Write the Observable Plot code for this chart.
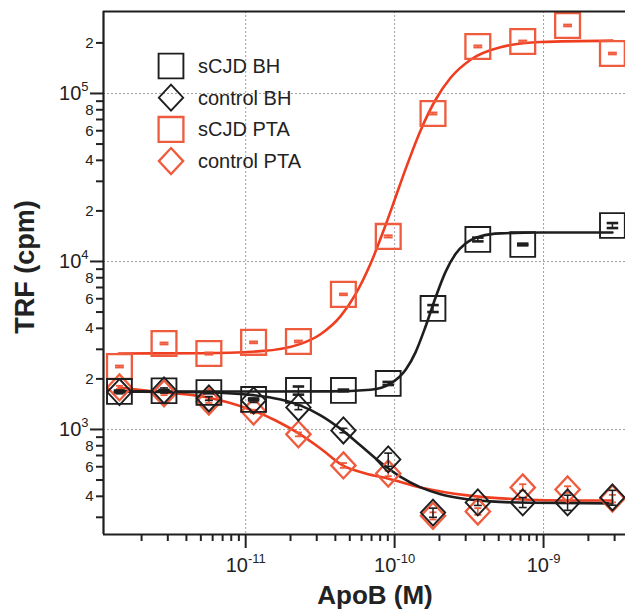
<!DOCTYPE html>
<html><head><meta charset="utf-8">
<script src="https://cdn.jsdelivr.net/npm/d3@7"></script>
<script src="https://cdn.jsdelivr.net/npm/@observablehq/plot@0.6"></script>
<style>
body{margin:0;background:#fff;}
#wrap{position:relative;width:625px;height:612px;}
</style></head><body><div id="wrap"></div>
<script>
// ---- data ----
const conc = [1.42e-12, 2.83e-12, 5.66e-12, 1.13e-11, 2.26e-11, 4.53e-11, 9.06e-11, 1.81e-10, 3.62e-10, 7.25e-10, 1.45e-9, 2.90e-9];

const sCJD_BH      = [1684, 1700, 1660, 1509, 1707, 1707, 1879, 5250, 13520, 12620, null, 16370];
const sCJD_BH_err  = [20, 20, 20, 20, 95, 20, 40, 250, 350, 150, null, 560];
const control_BH     = [1670, 1707, 1529, 1488, 1352, 986, 663, 320, 368, 368, 368, 394];
const control_BH_err = [40, 60, 40, 40, 40, 30, 60, 20, 15, 25, 38, 40];
const sCJD_PTA     = [2370, 3250, 2830, 3300, 3340, 6370, 14100, 76000, 190500, 204000, 254000, 173000];
const sCJD_PTA_err = [30, 40, 40, 40, 40, 70, 200, 1000, 2500, 2500, 3000, 2000];
const control_PTA     = [1780, 1640, 1468, 1280, 935, 611, 547, 306, 325, 452, 439, 388];
const control_PTA_err = [40, 40, 30, 30, 25, 20, 20, 15, 15, 20, 20, 20];

// fitted curves
const fit_sCJD_PTA_x = [1.405e-12, 4.99e-12, 1.26e-11, 2.34e-11, 3.18e-11, 4.34e-11, 5.47e-11, 6.90e-11, 8.70e-11, 1.016e-10, 1.186e-10, 1.494e-10, 1.884e-10, 2.376e-10, 3.236e-10, 5.14e-10, 9.55e-10, 2.90e-9];
const fit_sCJD_PTA_y = [2833, 2845, 2925, 3232, 3688, 4725, 6390, 9716, 16470, 24210, 35580, 60290, 91740, 124000, 158900, 188600, 202300, 206300];
const fit_sCJD_BH_x = [1.405e-12, 1.08e-11, 3.72e-11, 6.90e-11, 9.39e-11, 1.186e-10, 1.384e-10, 1.614e-10, 1.884e-10, 2.198e-10, 2.564e-10, 2.995e-10, 3.775e-10, 5.14e-10, 9.55e-10, 2.90e-9];
const fit_sCJD_BH_y = [1684, 1684, 1686, 1725, 1874, 2264, 2888, 4103, 6106, 8672, 11070, 12780, 14130, 14700, 14860, 14880];
const fit_control_BH_x = [1.405e-12, 4.99e-12, 1.08e-11, 1.718e-11, 2.34e-11, 3.18e-11, 4.34e-11, 5.91e-11, 8.05e-11, 1.097e-10, 1.494e-10, 2.036e-10, 2.773e-10, 4.41e-10, 8.18e-10, 2.90e-9];
const fit_control_BH_y = [1682, 1667, 1607, 1507, 1386, 1215, 1008, 803, 636, 522, 452, 412, 390, 373, 366, 363];
const fit_control_PTA_x = [1.405e-12, 2.82e-12, 5.56e-12, 1.114e-11, 1.589e-11, 2.27e-11, 3.18e-11, 4.48e-11, 6.39e-11, 8.98e-11, 1.494e-10, 3.09e-10, 7.23e-10, 1.449e-9, 2.90e-9];
const fit_control_PTA_y = [1778, 1661, 1551, 1298, 1131, 947, 770, 611, 547, 511, 452, 405, 383, 378, 378];

// ticks
const xMajor = [1e-11, 1e-10, 1e-9];
const xMinor = [2e-12,3e-12,4e-12,5e-12,6e-12,7e-12,8e-12,9e-12, 2e-11,3e-11,4e-11,5e-11,6e-11,7e-11,8e-11,9e-11, 2e-10,3e-10,4e-10,5e-10,6e-10,7e-10,8e-10,9e-10, 2e-9,3e-9];
const yMajor = [1e3, 1e4, 1e5];
const yMinorLabeled = [400,600,800, 2000,4000,6000,8000, 20000,40000,60000,80000, 200000];
const yMinorLabelText = ["4","6","8", "2","4","6","8", "2","4","6","8", "2"];
const yMinorPlain = [300,500,700,900, 3000,5000,7000,9000, 30000,50000,70000,90000];

const legendLabels = ["sCJD BH", "control BH", "sCJD PTA", "control PTA"];

// ---- styling ----
const BLACK = "#1e1e1e";
const RED_MARK = "#ef5b3d";
const RED_LINE = "#ef3d20";
const X_DOMAIN = [1.11e-12, 3.55e-9];
const Y_DOMAIN = [237, 307600];
const FONT = "'Liberation Sans', Arial, Helvetica, sans-serif";

const sqSym = {draw(ctx, size){ const s = Math.sqrt(size)/2; ctx.moveTo(-s,-s); ctx.lineTo(s,-s); ctx.lineTo(s,s); ctx.lineTo(-s,s); ctx.closePath(); }};
const diaSym = {draw(ctx, size){ const q = Math.sqrt(size)/2; const w = q*0.98, h = q*1.05; ctx.moveTo(0,-h); ctx.lineTo(w,0); ctx.lineTo(0,h); ctx.lineTo(-w,0); ctx.closePath(); }};
const dashSym = {draw(ctx, size){ const s = Math.sqrt(size)/2; ctx.moveTo(-s,0); ctx.lineTo(s,0); }};

const series = [
  {name: legendLabels[2], y: sCJD_PTA, err: sCJD_PTA_err, fx: fit_sCJD_PTA_x, fy: fit_sCJD_PTA_y, mark: RED_MARK, line: RED_LINE, sym: sqSym, sw: 2.3, capR: 5, capW: 2},
  {name: legendLabels[3], y: control_PTA, err: control_PTA_err, fx: fit_control_PTA_x, fy: fit_control_PTA_y, mark: RED_MARK, line: RED_LINE, sym: diaSym, sw: 2.3, capR: 4, capW: 1.8},
  {name: legendLabels[0], y: sCJD_BH, err: sCJD_BH_err, fx: fit_sCJD_BH_x, fy: fit_sCJD_BH_y, mark: BLACK, line: BLACK, sym: sqSym, sw: 1.9, capR: 6.5, capW: 2.6},
  {name: legendLabels[1], y: control_BH, err: control_BH_err, fx: fit_control_BH_x, fy: fit_control_BH_y, mark: BLACK, line: BLACK, sym: diaSym, sw: 1.9, capR: 4.5, capW: 1.6}
];

const marks = [
  Plot.gridX(xMajor, {stroke: "#a0a0a0", strokeOpacity: 1, strokeDasharray: "2,2", strokeWidth: 1}),
  Plot.gridY(yMajor, {stroke: "#a0a0a0", strokeOpacity: 1, strokeDasharray: "2,2", strokeWidth: 1})
];

for (const s of series) {
  const fit = s.fx.map((x, i) => ({x, y: s.fy[i]}));
  marks.push(Plot.line(fit, {x: "x", y: "y", stroke: s.line, strokeWidth: 2.6, curve: "monotone-x"}));
}
for (const s of series) {
  const pts = conc.map((x, i) => ({x, y: s.y[i], e: s.err[i]})).filter(d => d.y != null);
  marks.push(
    Plot.ruleX(pts, {x: "x", y1: d => d.y - d.e, y2: d => d.y + d.e, stroke: s.mark, strokeWidth: 1.5}),
    Plot.dot(pts, {x: "x", y: d => d.y - d.e, symbol: dashSym, r: s.capR, stroke: s.mark, strokeWidth: s.capW, fill: "none"}),
    Plot.dot(pts, {x: "x", y: d => d.y + d.e, symbol: dashSym, r: s.capR, stroke: s.mark, strokeWidth: s.capW, fill: "none"}),
    Plot.dot(pts, {x: "x", y: "y", symbol: s.sym, r: 14, stroke: s.mark, strokeWidth: s.sw, fill: "none"})
  );
}

const supFmt = d => "10^" + Math.round(Math.log10(d));
const noFmt = () => "";
const minorLab = yMinorLabeled.map((v, i) => ({v, t: yMinorLabelText[i]}));

marks.push(
  Plot.axisX(xMajor, {tickSize: 14, tickPadding: 9, tickFormat: supFmt, fontSize: 20, strokeWidth: 2, label: null}),
  Plot.axisX(xMinor, {tickSize: 7, tickFormat: noFmt, strokeWidth: 2, label: null}),
  Plot.axisY(yMajor, {tickSize: 13, tickPadding: 2, tickFormat: supFmt, fontSize: 20, strokeWidth: 2, label: null}),
  Plot.axisY(yMinorLabeled, {tickSize: 7, tickFormat: noFmt, strokeWidth: 2, label: null}),
  Plot.text(minorLab, {y: "v", text: "t", frameAnchor: "left", dx: -10, textAnchor: "end", fontSize: 15, fill: "#222"}),
  Plot.axisY(yMinorPlain, {tickSize: 7, tickFormat: noFmt, strokeWidth: 2, label: null}),
  Plot.ruleX([X_DOMAIN[0]], {stroke: BLACK, strokeWidth: 2.2}),
  Plot.ruleY([Y_DOMAIN[0]], {stroke: BLACK, strokeWidth: 2.2}),
  Plot.ruleY([Y_DOMAIN[1]], {stroke: BLACK, strokeWidth: 2.2})
);

const chart = Plot.plot({
  width: 625, height: 612,
  marginLeft: 103, marginRight: 0, marginTop: 11, marginBottom: 78,
  style: {fontFamily: FONT, background: "white", color: "#222", overflow: "visible"},
  x: {type: "log", domain: X_DOMAIN},
  y: {type: "log", domain: Y_DOMAIN},
  marks
});

// superscripts for 10^n labels
const NS = "http://www.w3.org/2000/svg";
d3.select(chart).selectAll("text").each(function() {
  const m = /^10\^(-?\d+)$/.exec(this.textContent);
  if (m) {
    this.textContent = "10";
    const ts = document.createElementNS(NS, "tspan");
    ts.setAttribute("dy", "-9");
    ts.setAttribute("font-size", "13");
    ts.textContent = m[1];
    this.appendChild(ts);
  }
});

const svg = d3.select(chart);
svg.append("text").attr("transform", "translate(25,267) rotate(-90)")
  .attr("text-anchor", "middle").attr("dominant-baseline", "central")
  .attr("font-weight", "bold").attr("font-size", 27).attr("fill", "#222")
  .attr("font-family", FONT).text("TRF (cpm)");
svg.append("text").attr("x", 375).attr("y", 604)
  .attr("text-anchor", "middle").attr("font-weight", "bold").attr("font-size", 26).attr("fill", "#222")
  .attr("font-family", FONT).text("ApoB (M)");

// legend
const legendItems = [
  {label: legendLabels[0], sym: sqSym, color: BLACK, sw: 1.9},
  {label: legendLabels[1], sym: diaSym, color: BLACK, sw: 1.9},
  {label: legendLabels[2], sym: sqSym, color: RED_MARK, sw: 2.3},
  {label: legendLabels[3], sym: diaSym, color: RED_MARK, sw: 2.3}
];
const lg = svg.append("g").attr("transform", "translate(171,66)");
legendItems.forEach((it, i) => {
  const g = lg.append("g").attr("transform", `translate(0,${i * 31.7})`);
  g.append("path").attr("d", d3.symbol().type(it.sym).size(Math.PI * 14 * 14)())
    .attr("fill", "none").attr("stroke", it.color).attr("stroke-width", it.sw);
  g.append("text").attr("x", 27).attr("dy", "0.35em").attr("text-anchor", "start")
    .attr("font-size", 20).attr("fill", "#222")
    .attr("font-family", FONT).text(it.label);
});

document.getElementById("wrap").appendChild(chart);
</script>
</body></html>
